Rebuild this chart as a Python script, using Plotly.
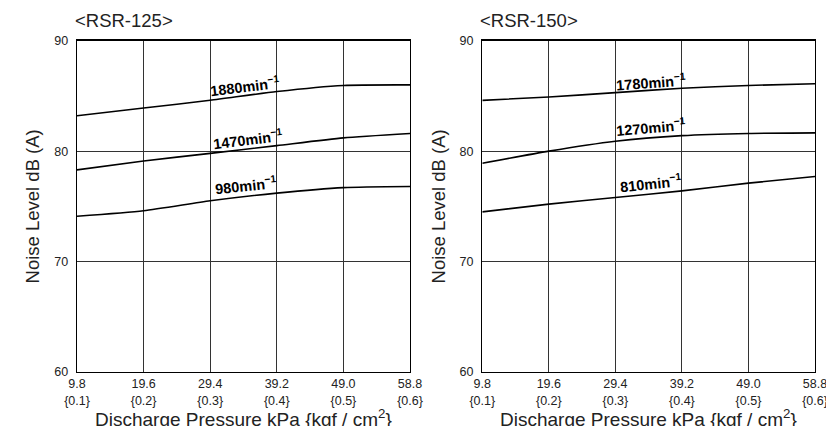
import plotly.graph_objects as go

pressure_kpa = [9.8, 19.6, 29.4, 39.2, 49.0, 58.8]
pressure_kgf = ["0.1", "0.2", "0.3", "0.4", "0.5", "0.6"]
y_ticks = [60, 70, 80, 90]

# RSR-125
rsr125_1880 = [83.2, 83.9, 84.6, 85.4, 85.95, 86.0]
rsr125_1470 = [78.3, 79.1, 79.8, 80.5, 81.2, 81.6]
rsr125_980 = [74.1, 74.6, 75.5, 76.2, 76.7, 76.8]
# RSR-150
rsr150_1780 = [84.6, 84.9, 85.3, 85.7, 85.95, 86.1]
rsr150_1270 = [78.9, 80.0, 80.9, 81.4, 81.6, 81.65]
rsr150_810 = [74.5, 75.2, 75.8, 76.4, 77.1, 77.7]

panel_titles = ["&lt;RSR-125&gt;", "&lt;RSR-150&gt;"]
x_title = "Discharge Pressure kPa {kgf / cm<sup>2</sup>}"
y_title = "Noise Level dB (A)"
labels_125 = ["1880", "1470", "980"]
labels_150 = ["1780", "1270", "810"]

W, H = 826, 426
FONT = "Liberation Sans, Arial, sans-serif"

fig = go.Figure()

def px_x(a, b):
    return [a / W, b / W]

dom_y = [1 - 372 / H, 1 - 40.7 / H]

series = [
    ("x", "y", rsr125_1880), ("x", "y", rsr125_1470), ("x", "y", rsr125_980),
    ("x2", "y2", rsr150_1780), ("x2", "y2", rsr150_1270), ("x2", "y2", rsr150_810),
]
for xa, ya, vals in series:
    fig.add_trace(go.Scatter(x=pressure_kpa, y=vals, mode="lines", xaxis=xa, yaxis=ya,
                             line=dict(color="black", width=1.6, shape="spline", smoothing=0.6),
                             showlegend=False, hoverinfo="skip"))

ticktext = [f"{p}<br>{{{k}}}" for p, k in zip(pressure_kpa, pressure_kgf)]

axis_common_x = dict(range=[9.8, 58.8], tickvals=pressure_kpa, ticktext=ticktext,
                     showgrid=True, gridcolor="#333", gridwidth=1, zeroline=False,
                     showline=True, linecolor="black", linewidth=1.3, mirror=True,
                     ticks="", tickfont=dict(size=12.5, color="#222", family=FONT),
                     ticklabeloverflow="allow", automargin=False, ticklabelstandoff=0)
axis_common_y = dict(range=[60, 90], tickvals=y_ticks, showgrid=True, gridcolor="#333",
                     gridwidth=1, zeroline=False, showline=True, linecolor="black",
                     linewidth=1.3, mirror=True, ticks="", ticklabelstandoff=5,
                     tickfont=dict(size=12.5, color="#222", family=FONT), automargin=False,
                     title=dict(text=y_title,
                                font=dict(size=18.5, color="#222", family=FONT), standoff=9))

fig.update_layout(
    width=W, height=H, margin=dict(l=0, r=0, t=0, b=0),
    paper_bgcolor="white", plot_bgcolor="white", template="none",
    font=dict(family=FONT, color="#222"),
    xaxis=dict(domain=px_x(77, 410), anchor="y", **axis_common_x),
    yaxis=dict(domain=dom_y, anchor="x", **axis_common_y),
    xaxis2=dict(domain=px_x(482.3, 815), anchor="y2", **axis_common_x),
    yaxis2=dict(domain=dom_y, anchor="x2", **axis_common_y),
)

# panel titles and x-axis titles
for t, xr in zip(panel_titles, ["x domain", "x2 domain"]):
    fig.add_annotation(text=t, xref=xr, yref="paper", x=0, y=1 - 20 / H, xanchor="left",
                       yanchor="middle", showarrow=False, xshift=-4,
                       font=dict(size=18.5, color="#222", family=FONT))
    fig.add_annotation(text=x_title, xref=xr, yref="paper", x=0.5, y=1 - 418 / H,
                       xanchor="center", yanchor="middle", showarrow=False,
                       font=dict(size=19, color="#222", family=FONT))

label_pos_125 = [(34.5, 85.9, -7), (34.9, 81.1, -7), (34.7, 76.9, -6)]
label_pos_150 = [(34.6, 86.3, -4), (34.6, 82.2, -5), (34.6, 77.1, -6)]
for xa, ya, labs, poss in [("x", "y", labels_125, label_pos_125), ("x2", "y2", labels_150, label_pos_150)]:
    for lab, (lx, ly, ang) in zip(labs, poss):
        fig.add_annotation(text=f"<b>{lab}min<sup>−1</sup></b>", x=lx, y=ly, xref=xa, yref=ya,
                           showarrow=False, textangle=ang,
                           font=dict(size=14.5, color="black", family=FONT))

fig.write_html("out.html", config={"displayModeBar": False, "staticPlot": True},
               post_script="document.body.style.margin='0';document.body.style.overflow='hidden';")
